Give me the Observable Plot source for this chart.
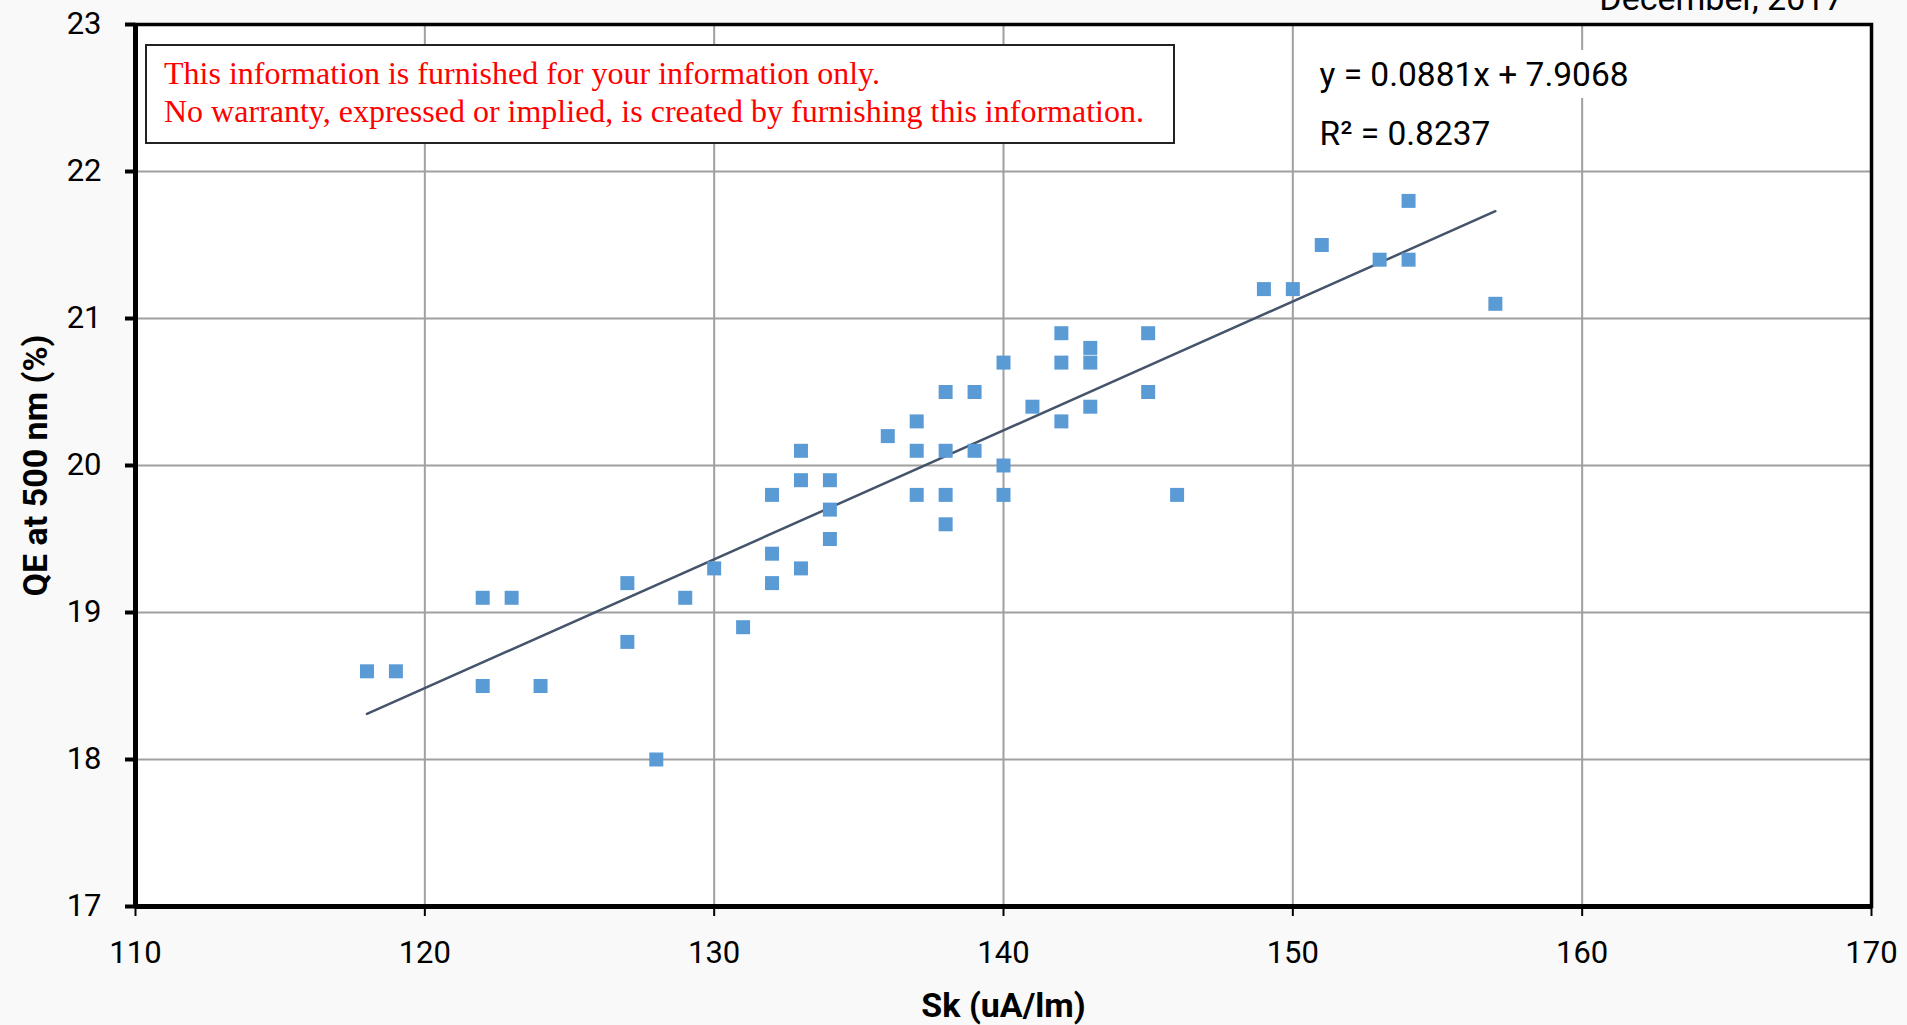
<!DOCTYPE html>
<html>
<head>
<meta charset="utf-8">
<script src="https://cdn.jsdelivr.net/npm/d3@7"></script>
<script src="https://cdn.jsdelivr.net/npm/@observablehq/plot@0.6"></script>
<style>
html, body { margin: 0; padding: 0; background: #f9f9f9; overflow: hidden; }
#wrap { position: relative; width: 1907px; height: 1025px; }
#wrap svg { display: block; }
#note {
  position: absolute; left: 145px; top: 44px; width: 1030px; height: 100px;
  box-sizing: border-box; border: 2px solid #222; background: #fff;
  padding: 8px 0 0 17px;
  font-family: "Liberation Serif", "Times New Roman", serif; font-size: 32px;
  line-height: 38px; color: #ff0000; white-space: nowrap;
}
</style>
</head>
<body>
<div id="wrap">
  <div id="note"></div>
</div>
<script>
// ---- data ----
const sk = [118,119,122,122,123,124,127,127,128,129,130,131,132,132,132,133,133,133,134,134,134,136,137,137,137,138,138,138,138,139,139,140,140,140,141,142,142,142,143,143,143,145,145,146,149,150,151,153,154,154,157];
const qe = [18.6,18.6,19.1,18.5,19.1,18.5,19.2,18.8,18.0,19.1,19.3,18.9,19.8,19.4,19.2,20.1,19.9,19.3,19.9,19.7,19.5,20.2,20.3,20.1,19.8,20.5,20.1,19.8,19.6,20.5,20.1,20.7,20.0,19.8,20.4,20.9,20.7,20.3,20.8,20.7,20.4,20.9,20.5,19.8,21.2,21.2,21.5,21.4,21.8,21.4,21.1];
const trendSk = [118, 157];
const trendQe = [18.31, 21.73];
const xTicks = [110,120,130,140,150,160,170];
const yTicks = [17,18,19,20,21,22,23];
const equationLines = ["y = 0.0881x + 7.9068", "R² = 0.8237"];
const noteLines = ["This information is furnished for your information only.",
                   "No warranty, expressed or implied, is created by furnishing this information."];
const xTitle = "Sk (uA/lm)";
const yTitle = "QE at 500 nm (%)";
const dateText = "December, 2017";

const points = sk.map((x, i) => ({sk: x, qe: qe[i]}));
const trend = trendSk.map((x, i) => ({sk: x, qe: trendQe[i]}));

const font = "Roboto, 'Open Sans', sans-serif";

const chart = Plot.plot({
  width: 1907, height: 1025,
  marginLeft: 135, marginRight: 36, marginTop: 24, marginBottom: 119,
  style: {background: "#f9f9f9", fontFamily: font, fontSize: "30px", color: "#000", overflow: "visible"},
  x: {domain: [110, 170]},
  y: {domain: [17, 23]},
  marks: [
    Plot.frame({fill: "white", stroke: "none"}),
    Plot.gridX(xTicks, {stroke: "#a0a0a0", strokeOpacity: 1, strokeWidth: 2}),
    Plot.gridY(yTicks, {stroke: "#a0a0a0", strokeOpacity: 1, strokeWidth: 2}),
    Plot.frame({stroke: "#000", strokeWidth: 3.5}),
    Plot.axisX({ticks: xTicks, tickSize: 10, tickPadding: 24, strokeWidth: 2, fontSize: 31, label: null, tickFormat: d => String(d)}),
    Plot.axisY({ticks: yTicks, tickSize: 10, tickPadding: 24, strokeWidth: 4, fontSize: 31, label: null, tickFormat: d => String(d)}),
    Plot.ruleX([110], {stroke: "#000", strokeWidth: 5}),
    Plot.ruleY([17], {stroke: "#000", strokeWidth: 5}),
    Plot.line(trend, {x: "sk", y: "qe", stroke: "#44546a", strokeWidth: 2.5}),
    Plot.dot(points, {x: "sk", y: "qe", symbol: "square", r: 7.9, fill: "#5b9bd5", stroke: "none"}),
    Plot.text([equationLines[0]], {frameAnchor: "top-left", dx: 1184, dy: 51, textAnchor: "start", lineAnchor: "middle",
      fill: "#000", stroke: "white", strokeWidth: 24, fontSize: 33.5}),
    Plot.text([equationLines[1]], {frameAnchor: "top-left", dx: 1184, dy: 110, textAnchor: "start", lineAnchor: "middle",
      fill: "#000", fontSize: 33.5}),
    Plot.text([xTitle], {frameAnchor: "bottom", dy: 100, textAnchor: "middle", lineAnchor: "middle", fontWeight: "bold", fontSize: 34, fill: "#000"}),
    Plot.text([yTitle], {frameAnchor: "left", dx: -99, rotate: -90, textAnchor: "middle", lineAnchor: "middle", fontWeight: "bold", fontSize: 34, fill: "#000"}),
    Plot.text([dateText], {frameAnchor: "top-right", dx: -28, dy: -25, textAnchor: "end", lineAnchor: "middle", fontSize: 34, fill: "#000"})
  ]
});

const wrap = document.getElementById("wrap");
wrap.insertBefore(chart, wrap.firstChild);
document.getElementById("note").innerHTML = noteLines.map(s => `<div>${s}</div>`).join("");
</script>
</body>
</html>
